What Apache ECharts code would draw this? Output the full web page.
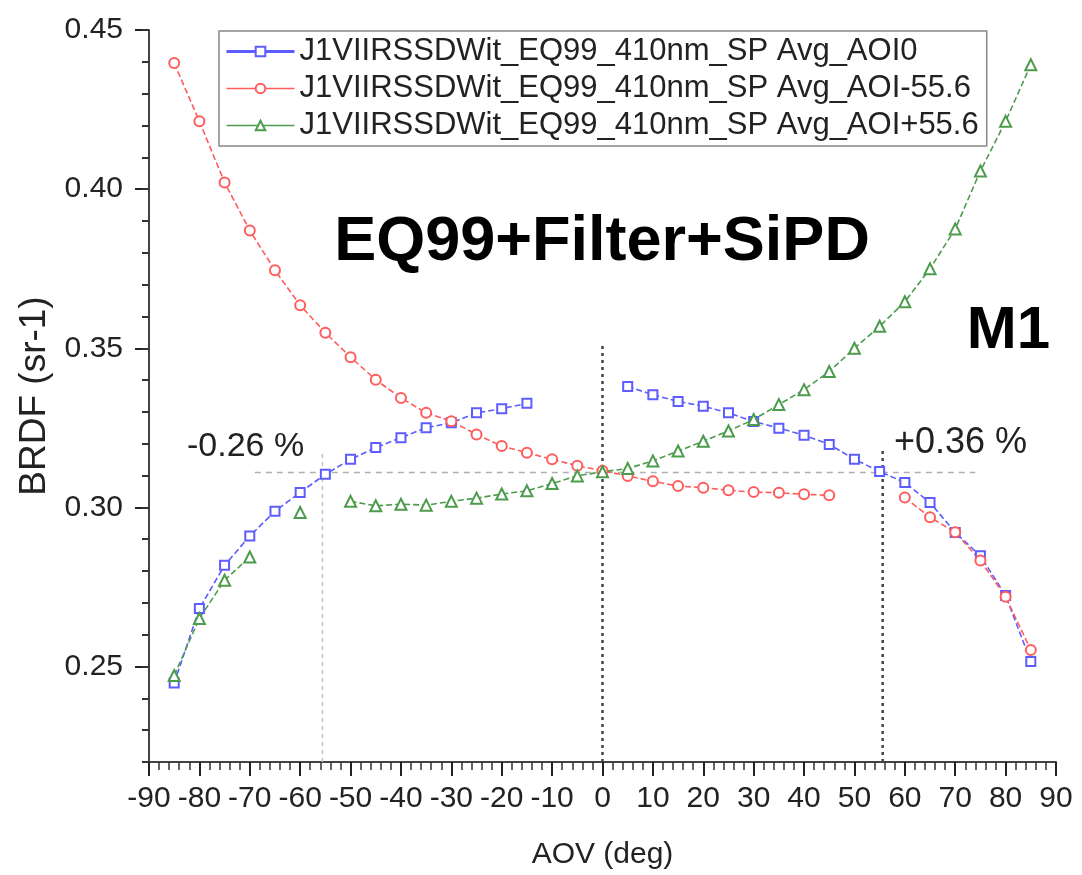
<!DOCTYPE html>
<html><head><meta charset="utf-8">
<script src="https://cdn.jsdelivr.net/npm/echarts@6/dist/echarts.min.js"></script>
<style>html,body{margin:0;padding:0;background:#fff}#chart{width:1082px;height:875px}</style>
</head><body><div id="chart"></div>
<script>
// ---- data ----
const aov = [-85,-80,-75,-70,-65,-60,-55,-50,-45,-40,-35,-30,-25,-20,-15,-10,-5,0,5,10,15,20,25,30,35,40,45,50,55,60,65,70,75,80,85];
const seriesNames = [
  'J1VIIRSSDWit_EQ99_410nm_SP Avg_AOI0',
  'J1VIIRSSDWit_EQ99_410nm_SP Avg_AOI-55.6',
  'J1VIIRSSDWit_EQ99_410nm_SP Avg_AOI+55.6'
];
const brdfAOI0 = [0.2448,0.2682,0.2818,0.2910,0.2988,0.3047,0.3104,0.3151,0.3188,0.3219,0.3250,0.3266,0.3297,0.3310,0.3327,null,null,null,0.3380,0.3354,0.3333,0.3318,0.3297,0.3270,0.3249,0.3227,0.3198,0.3151,0.3113,0.3078,0.3015,0.2921,0.2848,0.2723,0.2516];
const brdfAOIm556 = [0.4396,0.4213,0.4021,0.3870,0.3745,0.3635,0.3549,0.3472,0.3401,0.3344,0.3297,0.3271,0.3229,0.3193,0.3172,0.3151,0.3131,0.3115,0.3099,0.3082,0.3067,0.3062,0.3054,0.3048,0.3046,0.3041,0.3038,null,null,0.3031,0.2969,0.2922,0.2833,0.2719,0.2552];
const brdfAOIp556 = [0.2472,0.2651,0.2771,0.2844,null,0.2984,null,0.3019,0.3005,0.3010,0.3007,0.3019,0.3029,0.3042,0.3052,0.3075,0.3099,0.3112,0.3122,0.3146,0.3177,0.3208,0.3240,0.3276,0.3323,0.3370,0.3427,0.3500,0.3569,0.3646,0.3750,0.3875,0.4057,0.4213,0.4391];
const yTickLabels = [0.25,0.30,0.35,0.40,0.45];
const xTickLabels = [-90,-80,-70,-60,-50,-40,-30,-20,-10,0,10,20,30,40,50,60,70,80,90];
// reference lines
const refHX = [-69, 74];
const refHY = 0.311;
const refVX = [-55.6, 0, 55.6];
const refVTop = [0.318, 0.352, 0.3185];
const refVBottom = 0.22;
const annTexts = ['EQ99+Filter+SiPD', 'M1', '-0.26 %', '+0.36 %'];
const axisNames = ['AOV (deg)', 'BRDF (sr-1)'];

const colors = ['#5c5cff', '#ff5c5c', '#4d9b4d'];
const symbols = ['emptyRect', 'emptyCircle', 'emptyTriangle'];
const symSizes = [9, 10, 11];
const values = [brdfAOI0, brdfAOIm556, brdfAOIp556];
const FF = 'Liberation Sans, Arial, sans-serif';

const chart = echarts.init(document.getElementById('chart'), null, {renderer: 'canvas'});

const dataSeries = values.map((vals, i) => ({
  name: seriesNames[i],
  type: 'line',
  data: aov.map((x, k) => [x, vals[k]]),
  connectNulls: false,
  symbol: symbols[i],
  symbolSize: symSizes[i],
  showAllSymbol: true,
  color: colors[i],
  lineStyle: {color: colors[i], width: 1.6, type: [6, 3]},
  itemStyle: {color: colors[i], borderColor: colors[i], borderWidth: 1.2},
  z: 5,
  animation: false
}));

const refSeries = [];
refSeries.push({
  type: 'line', silent: true, symbol: 'none', animation: false, z: 2,
  data: refHX.map(x => [x, refHY]),
  lineStyle: {color: '#b0b0b0', width: 1.5, type: [6, 5]}
});
refVX.forEach((x, i) => {
  refSeries.push({
    type: 'line', silent: true, symbol: 'none', animation: false, z: 2,
    data: [[x, refVBottom], [x, refVTop[i]]],
    lineStyle: i === 0 ? {color: '#c0c0c0', width: 1.5, type: [4, 4]} : {color: '#444', width: 2.5, type: [3, 4]}
  });
});

const option = {
  backgroundColor: '#fff',
  animation: false,
  grid: {left: 149, right: 26, top: 30, bottom: 112, containLabel: false},
  title: [
    {text: annTexts[0], left: 597, top: 206, textAlign: 'center',
     textStyle: {fontFamily: FF, fontSize: 63, fontWeight: 'bold', color: '#000'}},
    {text: annTexts[1], right: 27, top: 296,
     textStyle: {fontFamily: FF, fontSize: 60, fontWeight: 'bold', color: '#000'}},
    {text: annTexts[2], left: 182, top: 425,
     textStyle: {fontFamily: FF, fontSize: 34, fontWeight: 'normal', color: '#222'}},
    {text: annTexts[3], left: 889, top: 420,
     textStyle: {fontFamily: FF, fontSize: 36, fontWeight: 'normal', color: '#222'}}
  ],
  legend: {
    orient: 'vertical', left: 219, top: 31,
    data: seriesNames.map((n, i) => ({name: n, lineStyle: {type: 'solid', width: i === 0 ? 3 : 1.5}})),
    itemWidth: 68, itemHeight: 12, itemGap: 6,
    padding: [5, 8, 5, 6],
    borderColor: '#888', borderWidth: 1.5,
    textStyle: {fontFamily: FF, fontSize: 31, color: '#222'}
  },
  xAxis: {
    type: 'value', min: -90, max: 90, interval: 10,
    name: axisNames[0], nameLocation: 'middle', nameGap: 78,
    nameTextStyle: {fontFamily: FF, fontSize: 30, color: '#222'},
    axisLine: {show: true, onZero: false, lineStyle: {color: '#444', width: 2}},
    axisTick: {show: true, inside: false, length: 14, lineStyle: {color: '#222', width: 2}},
    minorTick: {show: true, splitNumber: 5, length: 8, lineStyle: {color: '#333', width: 1.5}},
    splitLine: {show: false},
    axisLabel: {fontFamily: FF, fontSize: 30, color: '#222', margin: 22,
      customValues: xTickLabels, formatter: v => String(v)}
  },
  yAxis: [
    {
      type: 'value', min: 0.22, max: 0.45,
      name: axisNames[1], nameLocation: 'middle', nameGap: 92,
      nameTextStyle: {fontFamily: FF, fontSize: 37, color: '#222'},
      axisLine: {show: true, onZero: false, lineStyle: {color: '#444', width: 2}},
      axisTick: {show: true, inside: false, length: 14, lineStyle: {color: '#222', width: 2}, customValues: yTickLabels},
      splitLine: {show: false},
      axisLabel: {fontFamily: FF, fontSize: 30, color: '#222', margin: 26,
        customValues: yTickLabels, formatter: v => v.toFixed(2)}
    },
    {
      type: 'value', min: 0.22, max: 0.45, interval: 0.01, position: 'left',
      axisLine: {show: false, onZero: false},
      axisTick: {show: true, inside: false, length: 7, lineStyle: {color: '#333', width: 2}},
      axisLabel: {show: false},
      splitLine: {show: false}
    }
  ],
  series: refSeries.concat(dataSeries)
};
chart.setOption(option);
</script>
</body></html>
